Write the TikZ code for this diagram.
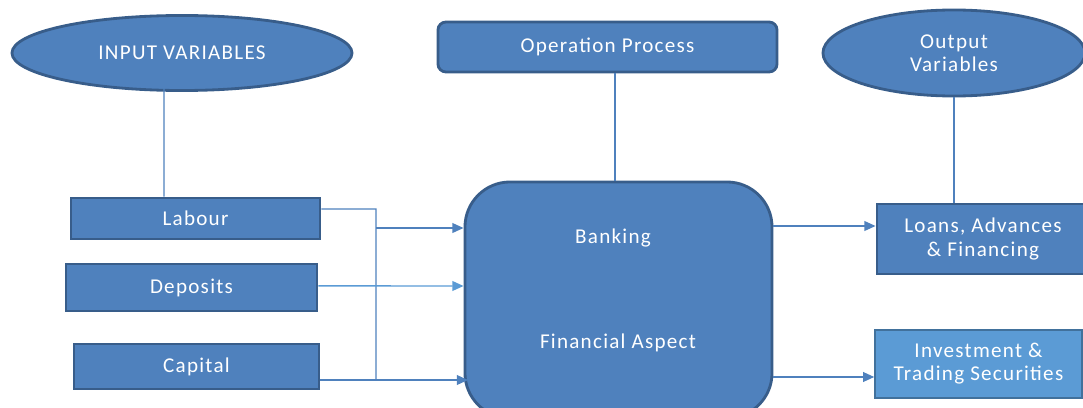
\documentclass[tikz,border=0pt]{standalone}
\usepackage{fontspec}
\setmainfont{Carlito}[LetterSpace=6]
\usetikzlibrary{shapes.geometric,arrows.meta}

\definecolor{boxfill}{HTML}{4F81BD}
\definecolor{boxline}{HTML}{385D8A}
\definecolor{lightfill}{HTML}{5B9BD5}
\definecolor{lightline}{HTML}{41719C}

\begin{document}
\begin{tikzpicture}
            [x=0.025cm, y=-0.025cm, >={Triangle[length=8pt,width=7pt]},
             var/.style={ellipse, draw=boxline, fill=boxfill, line width=2pt, text=white, inner sep=0pt, align=center, font=\fontsize{15}{16.5}\selectfont},
             block/.style={rectangle, draw=boxline, fill=boxfill, line width=2pt, text=white, inner sep=0pt, align=center, font=\fontsize{15}{16.5}\selectfont},
             link/.style={draw=boxfill, line width=1pt}]
            \useasboundingbox (0,0) rectangle (1083,407);

            % Top row
            \node[var, minimum width=8.5cm, minimum height=1.875cm] (InVar) at (182,53) {INPUT VARIABLES};
            \node[block, rounded corners=0.2cm, minimum width=8.475cm, minimum height=1.25cm] (OpProc) at (607.5,47) {Operation Process};
            \node[var, minimum width=6.55cm, minimum height=2.15cm] (OutVar) at (954,53) {Output\\Variables};

            % Inputs
            \node[block, minimum width=6.225cm, minimum height=1.025cm] (Labour) at (195.5,218.5) {Labour};
            \node[block, minimum width=6.275cm, minimum height=1.175cm] (Deposits) at (191.5,287.5) {Deposits};
            \node[block, minimum width=6.125cm, minimum height=1.125cm] (Capital) at (196.5,366.5) {Capital};

            % Bank
            \node[block, rounded corners=1.125cm, minimum width=7.675cm, minimum height=5.9cm] (Banking) at (618.5,300) {};
            \node[text=white, font=\fontsize{15}{16.5}\selectfont] (BankTxt) at (613,238) {Banking};
            \node[text=white, font=\fontsize{15}{16.5}\selectfont] (FinTxt) at (618,343) {Financial Aspect};

            % Outputs
            \node[block, minimum width=5.3cm, minimum height=1.75cm] (Loans) at (983,239) {Loans, Advances\\\& Financing};
            \node[block, draw=lightline, fill=lightfill, line width=1pt, minimum width=5.175cm, minimum height=1.7cm] (Invest) at (978.5,364) {Investment \&\\Trading Securities};

            % Vertical links
            \draw[link] ([xshift=-0.45cm,yshift=-0.575cm]InVar.center) -- ([xshift=-0.7875cm]Labour.north);
            \draw[link] (OpProc.south -| 615,0) -- (Banking.north -| 615,0);
            \draw[link] (OutVar.south) -- (Loans.north -| OutVar.south);

            % Input arrows
            \coordinate (Top) at (376,209);
            \coordinate (Bot) at (376,380);
            \draw[link] ([yshift=0.2375cm]Labour.east) -- (Top) -- (Bot);
            \draw[link, ->] (376,228) -- (Banking.west |- 0,228);
            \draw[link, draw=lightfill, ->] ([yshift=0.04cm]Deposits.east) -- (Banking.west |- 0,286);
            \draw[link, ->] (Capital.east |- Bot) -- (468,380);

            % Output arrows
            \draw[link, ->] (Banking.east |- 0,226) -- (Loans.west |- 0,226);
            \draw[link, ->] (Banking.east |- 0,377) -- (Invest.west |- 0,377);
        \end{tikzpicture}
\end{document}
